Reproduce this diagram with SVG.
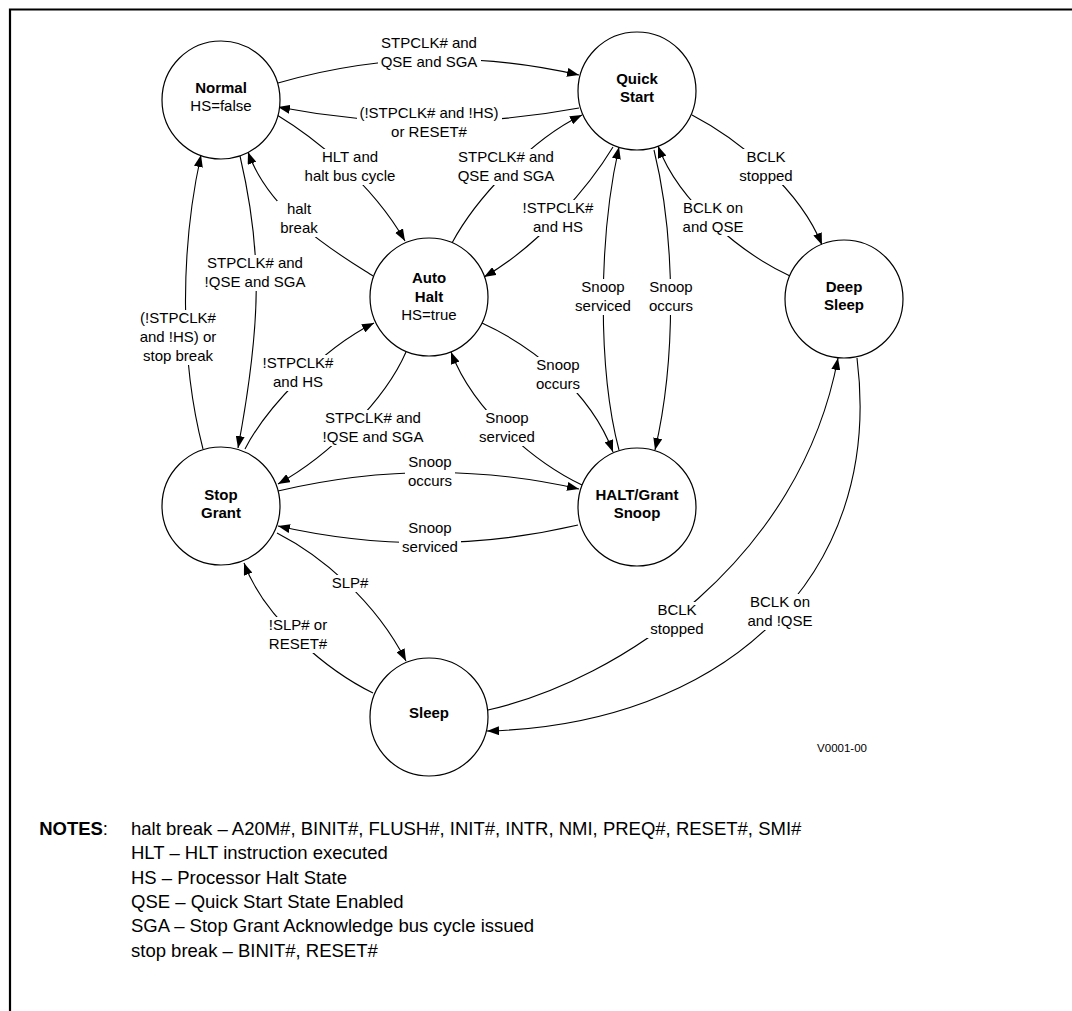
<svg xmlns="http://www.w3.org/2000/svg" width="1072" height="1011" viewBox="0 0 1072 1011">
<defs>
<marker id="ah" markerUnits="userSpaceOnUse" markerWidth="12" markerHeight="9" refX="12" refY="4.5" orient="auto">
<path d="M0,0 L12,4.5 L0,9 z" fill="#000"/>
</marker>
<style>
.frame{fill:none;stroke:#000;stroke-width:2.2}
.node circle{fill:#fff;stroke:#000;stroke-width:1.2}
text{font-family:"Liberation Sans",Arial,sans-serif;fill:#000}
.nt{font-size:15px;text-anchor:middle}
.b{font-weight:bold}
.edge{fill:none;stroke:#000;stroke-width:1.1;marker-end:url(#ah)}
.lbl rect{fill:#fff}
.lbl text{font-size:15px;text-anchor:middle}
.note{font-size:18.5px}
.code{font-size:11.5px}
</style>
</defs>
<rect width="1072" height="1011" fill="#fff"/>
<path class="frame" d="M10,1011 V9.5 H1072"/>

<g id="connectors">
<path class="edge" d="M278,83 Q428,40 579,75"/>
<path class="edge" d="M579,108 Q429,136 278,107"/>
<path class="edge" d="M277,115 C310,135 370,180 405,241"/>
<path class="edge" d="M373,276 C340,255 270,215 248,152"/>
<path class="edge" d="M452,243 C475,200 530,140 582,115"/>
<path class="edge" d="M613,147 C590,185 540,245 484,277"/>
<path class="edge" d="M692,115 C740,140 800,190 822,245"/>
<path class="edge" d="M790,276 C745,255 680,205 658,146"/>
<path class="edge" d="M240,156 C262,250 262,320 238,448"/>
<path class="edge" d="M203,449 C180,360 180,250 201,155"/>
<path class="edge" d="M245,449 C265,410 320,350 374,323"/>
<path class="edge" d="M406,352 C385,400 330,455 278,484"/>
<path class="edge" d="M482,323 C530,345 590,390 613,452"/>
<path class="edge" d="M582,485 C540,465 475,415 451,352"/>
<path class="edge" d="M619,450 C598,370 598,240 619,147"/>
<path class="edge" d="M654,150 C676,240 676,360 655,450"/>
<path class="edge" d="M278,491 Q430,455 579,489"/>
<path class="edge" d="M578,525 Q428,560 278,526"/>
<path class="edge" d="M277,533 C320,555 375,600 406,661"/>
<path class="edge" d="M373,693 C330,672 265,620 244,563"/>
<path class="edge" d="M488,710 C620,680 800,560 838,358"/>
<path class="edge" d="M857,358 C885,580 720,725 487,731"/>
</g>

<g id="labels" class="lbl">
<rect x="378" y="35" width="103" height="36"/>
<text x="429" y="48">STPCLK# and</text><text x="429" y="67">QSE and SGA</text>
<rect x="357" y="105" width="145" height="36"/>
<text x="429" y="118">(!STPCLK# and !HS)</text><text x="429" y="137">or RESET#</text>
<rect x="302" y="149" width="97" height="36"/>
<text x="350" y="162">HLT and</text><text x="350" y="181">halt bus cycle</text>
<rect x="277" y="201" width="44" height="36"/>
<text x="299" y="214">halt</text><text x="299" y="233">break</text>
<rect x="455" y="149" width="102" height="36"/>
<text x="506" y="162">STPCLK# and</text><text x="506" y="181">QSE and SGA</text>
<rect x="520" y="200" width="77" height="36"/>
<text x="558" y="213">!STPCLK#</text><text x="558" y="232">and HS</text>
<rect x="736" y="149" width="60" height="36"/>
<text x="766" y="162">BCLK</text><text x="766" y="181">stopped</text>
<rect x="680" y="200" width="67" height="36"/>
<text x="713" y="213">BCLK on</text><text x="713" y="232">and QSE</text>
<rect x="202" y="255" width="107" height="36"/>
<text x="255" y="268">STPCLK# and</text><text x="255" y="287">!QSE and SGA</text>
<rect x="138" y="310" width="81" height="55"/>
<text x="178" y="323">(!STPCLK#</text><text x="178" y="342">and !HS) or</text><text x="178" y="361">stop break</text>
<rect x="260" y="355" width="77" height="36"/>
<text x="298" y="368">!STPCLK#</text><text x="298" y="387">and HS</text>
<rect x="320" y="410" width="107" height="36"/>
<text x="373" y="423">STPCLK# and</text><text x="373" y="442">!QSE and SGA</text>
<rect x="533" y="357" width="50" height="36"/>
<text x="558" y="370">Snoop</text><text x="558" y="389">occurs</text>
<rect x="476" y="410" width="62" height="36"/>
<text x="507" y="423">Snoop</text><text x="507" y="442">serviced</text>
<rect x="572" y="279" width="62" height="36"/>
<text x="603" y="292">Snoop</text><text x="603" y="311">serviced</text>
<rect x="646" y="279" width="50" height="36"/>
<text x="671" y="292">Snoop</text><text x="671" y="311">occurs</text>
<rect x="405" y="454" width="50" height="36"/>
<text x="430" y="467">Snoop</text><text x="430" y="486">occurs</text>
<rect x="399" y="520" width="62" height="36"/>
<text x="430" y="533">Snoop</text><text x="430" y="552">serviced</text>
<rect x="329" y="575" width="42" height="17"/>
<text x="350" y="588">SLP#</text>
<rect x="267" y="617" width="62" height="36"/>
<text x="298" y="630">!SLP# or</text><text x="298" y="649">RESET#</text>
<rect x="647" y="602" width="60" height="36"/>
<text x="677" y="615">BCLK</text><text x="677" y="634">stopped</text>
<rect x="745" y="594" width="70" height="36"/>
<text x="780" y="607">BCLK on</text><text x="780" y="626">and !QSE</text>
</g>

<g id="normal" class="node"><circle cx="221" cy="100" r="59"/>
<text class="nt b" x="221" y="93">Normal</text><text class="nt" x="221" y="111">HS=false</text></g>
<g id="quick-start" class="node"><circle cx="637" cy="91" r="59"/>
<text class="nt b" x="637" y="84">Quick</text><text class="nt b" x="637" y="102">Start</text></g>
<g id="auto-halt" class="node"><circle cx="429" cy="297" r="59"/>
<text class="nt b" x="429" y="283">Auto</text><text class="nt b" x="429" y="302">Halt</text><text class="nt" x="429" y="320">HS=true</text></g>
<g id="deep-sleep" class="node"><circle cx="844" cy="299" r="59"/>
<text class="nt b" x="844" y="292">Deep</text><text class="nt b" x="844" y="310">Sleep</text></g>
<g id="stop-grant" class="node"><circle cx="221" cy="506" r="59"/>
<text class="nt b" x="221" y="500">Stop</text><text class="nt b" x="221" y="518">Grant</text></g>
<g id="halt-grant-snoop" class="node"><circle cx="637" cy="507" r="59"/>
<text class="nt b" x="637" y="500">HALT/Grant</text><text class="nt b" x="637" y="518">Snoop</text></g>
<g id="sleep" class="node"><circle cx="429" cy="717" r="59"/>
<text class="nt b" x="429" y="718">Sleep</text></g>

<text class="code" x="842" y="752" text-anchor="middle">V0001-00</text>

<g id="notes">
<text class="note" x="108" y="835" text-anchor="end"><tspan font-weight="bold">NOTES</tspan>:</text>
<text class="note" x="131" y="835">halt break – A20M#, BINIT#, FLUSH#, INIT#, INTR, NMI, PREQ#, RESET#, SMI#</text>
<text class="note" x="131" y="859">HLT – HLT instruction executed</text>
<text class="note" x="131" y="884">HS – Processor Halt State</text>
<text class="note" x="131" y="908">QSE – Quick Start State Enabled</text>
<text class="note" x="131" y="932">SGA – Stop Grant Acknowledge bus cycle issued</text>
<text class="note" x="131" y="957">stop break – BINIT#, RESET#</text>
</g>
</svg>
